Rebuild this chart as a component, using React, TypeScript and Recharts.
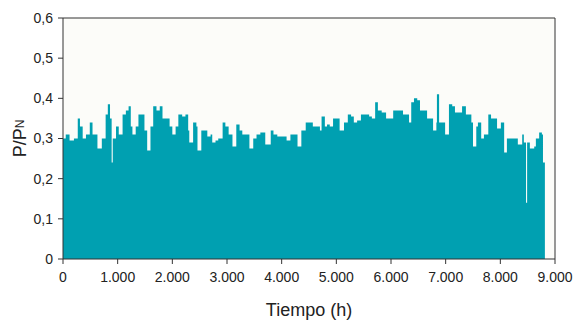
import React from 'react';
import { AreaChart, Area, XAxis, YAxis, CartesianGrid, ReferenceLine } from 'recharts';

// hours of the year (x) and the read-off envelope of P/PN (y)
const hours = [
  0, 50, 120, 200, 270, 310, 360, 420, 490, 540, 630, 710, 780, 820, 860, 890, 910, 970, 1020, 1090,
  1150, 1200, 1240, 1270, 1330, 1380, 1430, 1490, 1540, 1600, 1650, 1710, 1770, 1820, 1890, 1950, 2000, 2060, 2110, 2180,
  2240, 2290, 2310, 2380, 2440, 2460, 2530, 2590, 2640, 2700, 2730, 2790, 2840, 2920, 2970, 3030, 3100, 3170, 3230, 3280,
  3340, 3410, 3480, 3540, 3610, 3700, 3800, 3850, 3920, 4010, 4090, 4160, 4230, 4290, 4360, 4440, 4510, 4570, 4640, 4700,
  4730, 4790, 4830, 4880, 4940, 5010, 5060, 5140, 5210, 5270, 5320, 5380, 5450, 5540, 5600, 5650, 5710, 5760, 5830, 5910,
  5960, 6040, 6110, 6160, 6220, 6290, 6330, 6370, 6420, 6480, 6530, 6590, 6660, 6740, 6770, 6830, 6840, 6880, 6940, 6990,
  7060, 7120, 7170, 7250, 7300, 7370, 7410, 7470, 7500, 7560, 7590, 7650, 7700, 7780, 7830, 7890, 7940, 8010, 8070, 8120,
  8200, 8270, 8320, 8400, 8430, 8470, 8490, 8540, 8620, 8650, 8710, 8760, 8780, 8810, 8815,
];

const power = [
  0.30, 0.31, 0.295, 0.30, 0.35, 0.33, 0.30, 0.31, 0.34, 0.31, 0.275, 0.30, 0.36, 0.385, 0.35, 0.24, 0.30, 0.33, 0.31, 0.36,
  0.37, 0.38, 0.33, 0.31, 0.33, 0.36, 0.36, 0.32, 0.27, 0.33, 0.38, 0.37, 0.38, 0.35, 0.35, 0.33, 0.31, 0.33, 0.36, 0.355,
  0.36, 0.32, 0.29, 0.34, 0.33, 0.27, 0.32, 0.32, 0.305, 0.31, 0.29, 0.295, 0.30, 0.34, 0.33, 0.31, 0.28, 0.335, 0.32, 0.31,
  0.31, 0.275, 0.30, 0.31, 0.315, 0.285, 0.32, 0.31, 0.305, 0.305, 0.295, 0.31, 0.31, 0.28, 0.32, 0.34, 0.34, 0.33, 0.33, 0.32,
  0.355, 0.33, 0.335, 0.33, 0.35, 0.35, 0.32, 0.34, 0.36, 0.355, 0.34, 0.345, 0.36, 0.36, 0.355, 0.35, 0.39, 0.37, 0.365, 0.35,
  0.35, 0.37, 0.37, 0.37, 0.36, 0.36, 0.34, 0.39, 0.40, 0.395, 0.37, 0.37, 0.35, 0.35, 0.32, 0.34, 0.41, 0.34, 0.34, 0.31,
  0.385, 0.38, 0.365, 0.365, 0.38, 0.36, 0.36, 0.34, 0.28, 0.33, 0.34, 0.30, 0.31, 0.36, 0.35, 0.35, 0.325, 0.34, 0.265, 0.30,
  0.30, 0.30, 0.285, 0.31, 0.29, 0.14, 0.29, 0.275, 0.28, 0.30, 0.315, 0.31, 0.24, 0.24, 0,
];

const xTicks = [0, 1000, 2000, 3000, 4000, 5000, 6000, 7000, 8000, 9000];
const yTicks = [0, 0.1, 0.2, 0.3, 0.4, 0.5, 0.6];

const data = hours.map((h, i) => ({ h, v: power[i] }));

const font = "'Liberation Sans', Arial, sans-serif";
const axisColor = '#333';

const fmtX = (n: number) => (n === 0 ? '0' : `${n / 1000}.000`);
const fmtY = (n: number) => (n === 0 ? '0' : n.toFixed(1).replace('.', ','));

const YLabel = (props: any) => {
  const { viewBox } = props;
  const cx = 20;
  const cy = viewBox.y + viewBox.height / 2;
  return (
    <text
      x={cx}
      y={cy}
      transform={`rotate(-90, ${cx}, ${cy})`}
      textAnchor="middle"
      dominantBaseline="central"
      fontFamily={font}
      fontSize={18}
      fill="#222"
    >
      P/P<tspan fontSize={12}>N</tspan>
    </text>
  );
};

export default function App() {
  return (
    <div style={{ position: 'absolute', left: 0, top: 0, background: '#fff' }}>
      <AreaChart width={586} height={320} data={data} margin={{ top: 18, right: 31, bottom: 0, left: 0 }}>
        <CartesianGrid horizontal={false} vertical={false} fill="#fcfcf9" />
        <XAxis
          type="number"
          dataKey="h"
          domain={[0, 9000]}
          ticks={xTicks}
          tickFormatter={fmtX}
          height={61}
          stroke={axisColor}
          tickSize={5}
          tickMargin={8}
          tick={{ fill: '#222', fontSize: 14, fontFamily: font }}
          label={{ value: 'Tiempo (h)', position: 'insideBottom', offset: 4, fill: '#222', fontSize: 18, fontFamily: font }}
        />
        <YAxis
          type="number"
          domain={[0, 0.6]}
          ticks={yTicks}
          tickFormatter={fmtY}
          width={63}
          stroke={axisColor}
          tickSize={5}
          tickMargin={5}
          tick={{ fill: '#222', fontSize: 14, fontFamily: font }}
          label={<YLabel />}
        />
        <ReferenceLine y={0.6} stroke={axisColor} />
        <ReferenceLine x={9000} stroke={axisColor} />
        <Area
          type="stepAfter"
          dataKey="v"
          stroke="none"
          fill="#00a0b1"
          fillOpacity={1}
          isAnimationActive={false}
        />
      </AreaChart>
    </div>
  );
}
